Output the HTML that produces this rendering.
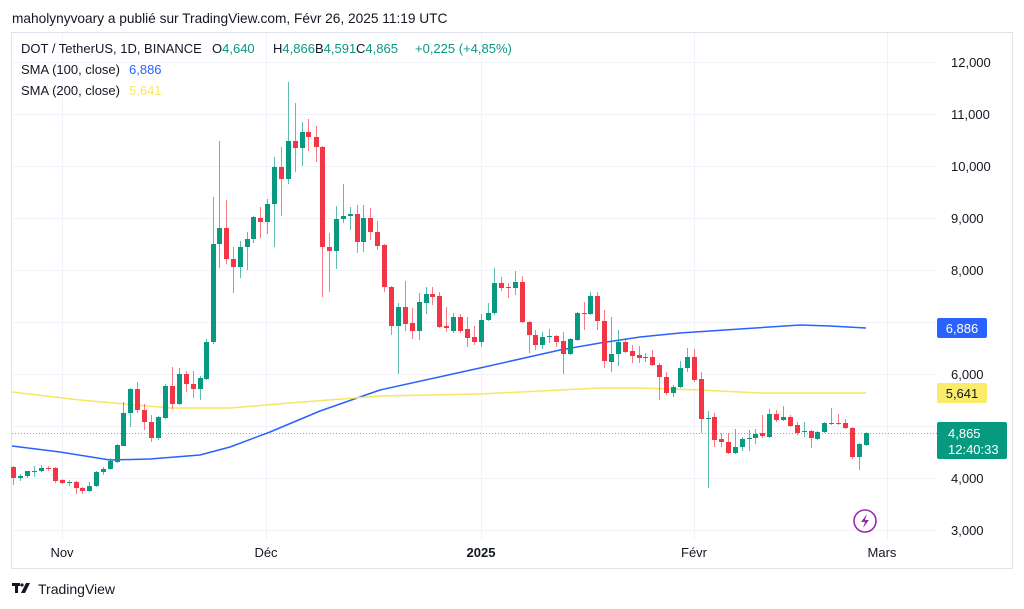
<!DOCTYPE html>
<html><head><meta charset="utf-8"><style>
html,body{margin:0;padding:0;background:#fff;}
body{width:1024px;height:609px;overflow:hidden;position:relative;font-family:"Liberation Sans",sans-serif;}
</style></head><body>
<svg id="s" width="1024" height="609" xmlns="http://www.w3.org/2000/svg" style="position:absolute;left:0;top:0">
<rect x="11.5" y="32.5" width="1001" height="536" fill="#fff" stroke="#e0e3eb"/>
<g stroke="#f0f3fa" stroke-width="1" id="grid"></g>
<path d="M12,446 L60,452 L110,460 L150,459 L200,455 L230,447 L270,432 L320,411 L380,390 L480,368 L560,350 L600,343 L640,337 L680,333 L740,329 L800,325 L830,326 L866,328" fill="none" stroke="#2962ff" stroke-width="1.5"/>
<path d="M12,392 L80,400 L170,408 L230,408 L290,403 L380,396 L480,394 L600,388 L640,388 L700,390 L760,393 L866,393" fill="none" stroke="#f7e663" stroke-width="1.5"/>
<line x1="12" y1="433.5" x2="937" y2="433.5" stroke="#089981" stroke-width="1" stroke-dasharray="1,2" opacity="0.6"/>
<g id="c"></g>
<g font-size="13" fill="#131722" font-family="Liberation Sans, sans-serif" id="ylab"></g>
<rect x="937" y="318" width="50" height="20" rx="2" fill="#2962ff"/>
<text x="962" y="333" font-size="13" fill="#fff" text-anchor="middle">6,886</text>
<rect x="937" y="383" width="50" height="20" rx="2" fill="#fbeb6b"/>
<text x="962" y="398" font-size="13" fill="#131722" text-anchor="middle">5,641</text>
<rect x="937" y="422" width="70" height="37" rx="2" fill="#089981"/>
<text x="948" y="438" font-size="13" fill="#fff">4,865</text>
<text x="948" y="454" font-size="13" fill="#fff">12:40:33</text>
<circle cx="865" cy="521" r="11" fill="#fff" stroke="#9c27b0" stroke-width="1.6"/>
<path d="M867,514 L861,522 L865,522 L863,528 L869,520 L865,520 Z" fill="#9c27b0"/>
<g font-size="13" fill="#131722" text-anchor="middle">
<text x="62" y="557">Nov</text><text x="266" y="557">Déc</text>
<text x="481" y="557" font-weight="bold">2025</text><text x="694" y="557">Févr</text><text x="882" y="557">Mars</text>
</g>
<text x="12" y="23" font-size="13.7" fill="#131722">maholynyvoary a publié sur TradingView.com, Févr 26, 2025 11:19 UTC</text>
<g font-size="13" fill="#131722">
<text x="21" y="53">DOT / TetherUS, 1D, BINANCE</text>
<text x="212" y="53">O<tspan fill="#089981">4,640</tspan></text>
<text x="273" y="53">H<tspan fill="#089981">4,866</tspan></text>
<text x="315" y="53">B<tspan fill="#089981">4,591</tspan></text>
<text x="356" y="53">C<tspan fill="#089981">4,865</tspan></text>
<text x="415" y="53" fill="#089981">+0,225 (+4,85%)</text>
<text x="21" y="74">SMA (100, close)</text><text x="129" y="74" fill="#2962ff">6,886</text>
<text x="21" y="95">SMA (200, close)</text><text x="129" y="95" fill="#f7e663">5,641</text>
</g>
<g fill="#131722"><rect x="12" y="583" width="8" height="3"/><rect x="15" y="583" width="3" height="10"/><path d="M21,593 L26,583 L30,583 L25,593 Z"/><circle cx="22" cy="585" r="1.6"/></g>
<text x="38" y="594" font-size="14" fill="#131722">TradingView</text>
</svg>
<script>
var ns="http://www.w3.org/2000/svg",g=document.getElementById('grid'),yl=document.getElementById('ylab');
function el(p,t,a){var e=document.createElementNS(ns,t);for(var k in a)e.setAttribute(k,a[k]);p.appendChild(e);return e;}
var labs=["12,000","11,000","10,000","9,000","8,000","7,000","6,000","5,000","4,000","3,000"];
for(var i=0;i<10;i++){var y=62+52*i;el(g,'line',{x1:12,x2:937,y1:y+.5,y2:y+.5});var t=el(yl,'text',{x:951,y:y+5});t.textContent=labs[i];}
[62,266,481,694,887].forEach(function(x){el(g,'line',{x1:x+.5,x2:x+.5,y1:33,y2:540});});
var d=[[13,467,478,466,485,0],[20,476,478,474,481,1],[27,471,476,471,478,1],[34,471,472,466,477,1],[41,468,471,465,472,1],[48,468,469,466,471,0],[55,468,481,467,483,0],[62,480,483,479,484,0],[69,482,483,480,486,1],[76,482,488,481,494,0],[82,488,491,487,494,0],[89,486,491,482,492,1],[96,472,486,471,487,1],[103,469,472,467,475,1],[110,461,469,458,470,1],[117,445,462,444,463,1],[123,413,446,402,446,1],[130,389,413,388,427,1],[137,389,410,382,413,0],[144,410,422,404,430,0],[151,422,438,415,442,0],[158,417,438,416,440,1],[165,386,418,384,419,1],[172,386,404,367,409,0],[179,374,404,368,405,1],[186,374,384,371,392,0],[193,384,389,371,398,0],[200,378,389,376,400,1],[206,342,379,339,380,1],[213,244,342,197,344,1],[219,228,244,141,268,1],[226,228,259,200,264,0],[233,259,267,247,293,0],[240,247,267,241,278,1],[247,239,247,232,270,1],[253,217,239,216,243,1],[260,218,222,207,238,0],[267,204,222,199,234,1],[274,167,204,157,247,1],[281,167,179,147,216,0],[288,141,179,82,184,1],[295,141,148,103,172,0],[302,132,148,122,166,1],[308,132,137,119,151,0],[316,137,147,126,162,0],[322,147,247,146,297,0],[329,247,251,233,292,0],[336,219,251,206,269,1],[343,216,219,184,223,1],[350,214,216,207,230,1],[357,214,242,205,253,0],[363,218,242,205,252,1],[370,218,232,208,240,0],[377,232,246,221,250,0],[384,245,287,244,292,0],[391,287,326,286,335,0],[398,307,326,303,374,1],[405,307,324,281,331,0],[412,323,331,308,339,0],[419,302,331,293,340,1],[426,294,303,287,314,1],[432,294,297,287,305,0],[439,296,327,292,328,0],[446,326,328,307,332,0],[453,317,331,313,333,1],[460,317,331,314,333,0],[467,329,338,317,347,0],[474,337,342,326,345,0],[481,320,342,314,347,1],[488,313,320,303,321,1],[494,283,313,268,315,1],[501,283,288,277,291,0],[508,287,288,283,298,0],[515,282,288,271,295,1],[522,282,322,276,323,0],[529,322,335,321,353,0],[535,335,345,330,350,0],[542,337,345,332,349,1],[549,336,337,329,343,1],[556,336,342,335,347,0],[563,341,354,332,374,0],[570,339,354,338,355,1],[577,313,340,312,341,1],[584,313,314,302,330,0],[590,296,314,292,315,1],[597,296,321,292,330,0],[604,321,361,310,368,0],[611,354,362,317,372,1],[618,342,354,330,366,1],[625,342,352,338,353,0],[632,351,356,345,363,0],[639,355,358,346,363,0],[645,357,358,353,362,1],[652,357,365,350,366,0],[659,365,377,363,400,0],[666,377,393,372,395,0],[673,387,393,385,397,1],[680,368,387,361,388,1],[687,357,368,348,372,1],[694,357,380,349,382,0],[701,379,419,372,433,0],[708,418,419,411,488,1],[714,417,440,413,447,0],[721,439,442,433,447,0],[728,442,453,433,454,0],[735,447,453,429,454,1],[742,439,447,437,451,1],[749,438,439,430,451,1],[755,434,438,429,444,1],[762,433,436,415,438,0],[769,414,437,409,438,1],[776,414,420,410,422,0],[783,417,420,406,421,1],[790,417,426,415,427,0],[797,425,433,422,435,0],[804,431,432,422,437,1],[811,431,438,430,448,0],[817,432,439,431,440,1],[824,423,432,422,433,1],[831,423,424,408,425,1],[838,423,424,414,425,0],[845,423,428,419,429,0],[852,428,457,427,459,0],[859,444,457,443,470,1],[866,433,445,432,446,1]];
var c=document.getElementById('c');
d.forEach(function(k){var col=k[5]?'#089981':'#f23645';
el(c,'line',{x1:k[0]+.5,x2:k[0]+.5,y1:k[3],y2:k[4],stroke:col,'stroke-width':1,opacity:.65});
el(c,'rect',{x:k[0]-2,y:k[1],width:5,height:Math.max(1,k[2]-k[1]),fill:col});});
</script>
</body></html>
